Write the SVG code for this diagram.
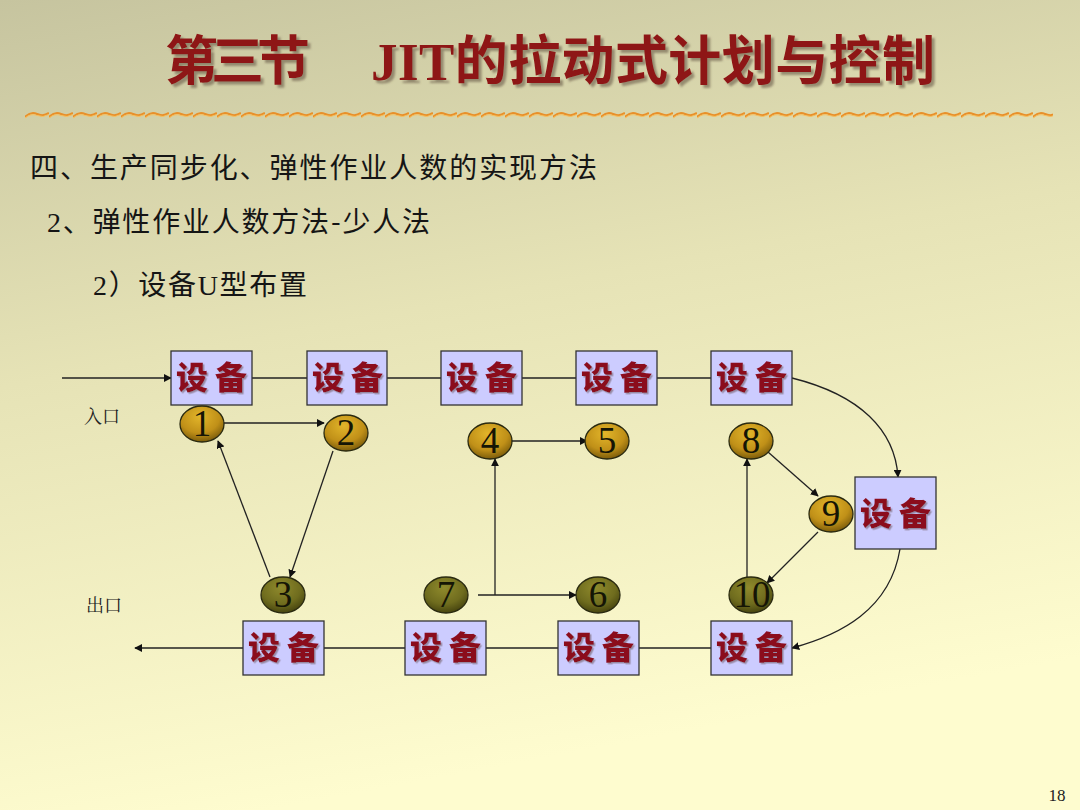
<svg xmlns="http://www.w3.org/2000/svg" width="1080" height="810" viewBox="0 0 1080 810">
<defs>
<linearGradient id="bg" x1="0" y1="0" x2="0.25" y2="1">
<stop offset="0" stop-color="#c6c49f"/>
<stop offset="0.45" stop-color="#e6e3b6"/>
<stop offset="1" stop-color="#fefccf"/>
</linearGradient>
<radialGradient id="gold" cx="0.45" cy="0.3" r="0.75">
<stop offset="0" stop-color="#e2b52a"/>
<stop offset="0.6" stop-color="#c09018"/>
<stop offset="1" stop-color="#6e5208"/>
</radialGradient>
<radialGradient id="olive" cx="0.45" cy="0.3" r="0.75">
<stop offset="0" stop-color="#8f8a2c"/>
<stop offset="0.6" stop-color="#6f6c1e"/>
<stop offset="1" stop-color="#3f3d0c"/>
</radialGradient>
<pattern id="wave" x="25" y="105" width="24" height="20" patternUnits="userSpaceOnUse">
<path d="M0 12 Q6 6 12 9 Q18 12 24 8" fill="none" stroke="#e8902a" stroke-width="2.2"/>
<path d="M0 13 Q6 8 12 10.5 Q18 13 24 9.5" fill="none" stroke="#f5c060" stroke-width="1"/>
</pattern>
<filter id="tsh" x="-5%" y="-20%" width="110%" height="140%">
<feDropShadow dx="3" dy="3" stdDeviation="1" flood-color="#6a5a4a" flood-opacity="0.6"/>
</filter>
<filter id="esh" x="-10%" y="-20%" width="120%" height="140%">
<feDropShadow dx="1.5" dy="1.5" stdDeviation="0.5" flood-color="#8a7a90" flood-opacity="0.8"/>
</filter>
<marker id="ah" viewBox="0 0 10 10" refX="9" refY="5" markerWidth="8" markerHeight="8" markerUnits="userSpaceOnUse" orient="auto">
<path d="M0 0 L10 5 L0 10 z" fill="#111"/>
</marker>
</defs>
<style>
.box{fill:#ccccff;stroke:#333;stroke-width:1.3}
.eq{font-family:"Noto Sans CJK SC",sans-serif;font-weight:900;font-size:32px;fill:#8b0a1e;filter:url(#esh)}
.c{stroke:#2a2a10;stroke-width:1.3}
.num{font-family:"Liberation Serif",serif;font-size:37px;fill:#151505;text-anchor:middle}
.ln{fill:none;stroke:#222;stroke-width:1.3}
.body{font-family:"Noto Sans CJK SC",sans-serif;fill:#151515}
.ttl{font-family:"Liberation Serif","Noto Sans CJK SC",serif;font-weight:bold;font-size:53px;fill:#8e1212;filter:url(#tsh)}
.lab{font-family:"Noto Serif CJK SC","Noto Sans CJK SC",serif;font-size:18px;fill:#222}
</style>
<rect width="1080" height="810" fill="url(#bg)"/>
<g id="title">
<text class="ttl" x="165" y="80" textLength="145" lengthAdjust="spacing">第三节</text>
<text class="ttl" x="371" y="80" textLength="564" lengthAdjust="spacing">JIT的拉动式计划与控制</text>
</g>
<rect x="25" y="105" width="1028" height="20" fill="url(#wave)"/>
<g id="headings">
<text class="body" x="30" y="178" font-size="28" textLength="567" lengthAdjust="spacing">四、生产同步化、弹性作业人数的实现方法</text>
<text class="body" x="47" y="232" font-size="28" textLength="383" lengthAdjust="spacing"><tspan font-family="Liberation Serif,serif">2</tspan>、弹性作业人数方法-少人法</text>
<text class="body" x="93" y="295" font-size="28" textLength="214" lengthAdjust="spacing"><tspan font-family="Liberation Serif,serif">2</tspan>）设备<tspan font-family="Liberation Serif,serif">U</tspan>型布置</text>
</g>
<g id="connectors">
<line class="ln" x1="62" y1="378" x2="171" y2="378" marker-end="url(#ah)"/>
<line class="ln" x1="252" y1="378" x2="307" y2="378"/>
<line class="ln" x1="387" y1="378" x2="441" y2="378"/>
<line class="ln" x1="522" y1="378" x2="576" y2="378"/>
<line class="ln" x1="657" y1="378" x2="711" y2="378"/>
<path class="ln" d="M792 378 C860 395 895 430 898 477" marker-end="url(#ah)"/>
<path class="ln" d="M900 549 C890 610 840 635 792 648" marker-end="url(#ah)"/>
<line class="ln" x1="711" y1="648" x2="639" y2="648"/>
<line class="ln" x1="558" y1="648" x2="486" y2="648"/>
<line class="ln" x1="405" y1="648" x2="324" y2="648"/>
<line class="ln" x1="243" y1="648" x2="135" y2="648" marker-end="url(#ah)"/>
<line class="ln" x1="224" y1="423" x2="324" y2="423" marker-end="url(#ah)"/>
<line class="ln" x1="333" y1="451" x2="290" y2="577" marker-end="url(#ah)"/>
<line class="ln" x1="270" y1="577" x2="218" y2="441" marker-end="url(#ah)"/>
<line class="ln" x1="478" y1="595" x2="576" y2="595" marker-end="url(#ah)"/>
<line class="ln" x1="495" y1="595" x2="495" y2="459" marker-end="url(#ah)"/>
<line class="ln" x1="490" y1="441" x2="587" y2="441" marker-end="url(#ah)"/>
<line class="ln" x1="768" y1="452" x2="818" y2="496" marker-end="url(#ah)"/>
<line class="ln" x1="818" y1="532" x2="767" y2="583" marker-end="url(#ah)"/>
<line class="ln" x1="747" y1="577" x2="747" y2="459" marker-end="url(#ah)"/>
</g>
<g id="eq1"><rect class="box" x="171" y="351" width="81" height="54"/><text class="eq" x="176" y="389" textLength="71" lengthAdjust="spacing">设备</text></g>
<g id="eq2"><rect class="box" x="307" y="351" width="80" height="54"/><text class="eq" x="312" y="389" textLength="71" lengthAdjust="spacing">设备</text></g>
<g id="eq3"><rect class="box" x="441" y="351" width="81" height="54"/><text class="eq" x="446" y="389" textLength="71" lengthAdjust="spacing">设备</text></g>
<g id="eq4"><rect class="box" x="576" y="351" width="81" height="54"/><text class="eq" x="581" y="389" textLength="71" lengthAdjust="spacing">设备</text></g>
<g id="eq5"><rect class="box" x="711" y="351" width="81" height="54"/><text class="eq" x="716" y="389" textLength="71" lengthAdjust="spacing">设备</text></g>
<g id="eq6"><rect class="box" x="855" y="477" width="81" height="72"/><text class="eq" x="860" y="525" textLength="71" lengthAdjust="spacing">设备</text></g>
<g id="eq7"><rect class="box" x="711" y="621" width="81" height="54"/><text class="eq" x="716" y="659" textLength="71" lengthAdjust="spacing">设备</text></g>
<g id="eq8"><rect class="box" x="558" y="621" width="81" height="54"/><text class="eq" x="563" y="659" textLength="71" lengthAdjust="spacing">设备</text></g>
<g id="eq9"><rect class="box" x="405" y="621" width="81" height="54"/><text class="eq" x="410" y="659" textLength="71" lengthAdjust="spacing">设备</text></g>
<g id="eq10"><rect class="box" x="243" y="621" width="81" height="54"/><text class="eq" x="248" y="659" textLength="71" lengthAdjust="spacing">设备</text></g>
<g id="n1"><ellipse class="c" cx="202" cy="424" rx="22" ry="18" fill="url(#gold)"/><text class="num" x="202" y="436">1</text></g>
<g id="n2"><ellipse class="c" cx="346" cy="433" rx="22" ry="18" fill="url(#gold)"/><text class="num" x="346" y="445">2</text></g>
<g id="n3"><ellipse class="c" cx="283" cy="595" rx="22" ry="18" fill="url(#olive)"/><text class="num" x="283" y="607">3</text></g>
<g id="n4"><ellipse class="c" cx="490" cy="441" rx="22" ry="18" fill="url(#gold)"/><text class="num" x="490" y="453">4</text></g>
<g id="n5"><ellipse class="c" cx="607" cy="441" rx="22" ry="18" fill="url(#gold)"/><text class="num" x="607" y="453">5</text></g>
<g id="n6"><ellipse class="c" cx="598" cy="595" rx="22" ry="18" fill="url(#olive)"/><text class="num" x="598" y="607">6</text></g>
<g id="n7"><ellipse class="c" cx="446" cy="595" rx="22" ry="18" fill="url(#olive)"/><text class="num" x="446" y="607">7</text></g>
<g id="n8"><ellipse class="c" cx="751" cy="441" rx="22" ry="18" fill="url(#gold)"/><text class="num" x="751" y="453">8</text></g>
<g id="n9"><ellipse class="c" cx="831" cy="514" rx="22" ry="18" fill="url(#gold)"/><text class="num" x="831" y="526">9</text></g>
<g id="n10"><ellipse class="c" cx="751" cy="595" rx="22" ry="18" fill="url(#olive)"/><text class="num" x="752" y="607" textLength="37" lengthAdjust="spacingAndGlyphs">10</text></g>
<g id="labels">
<text class="lab" x="84" y="423">入口</text>
<text class="lab" x="86" y="612">出口</text>
<text x="1057" y="801" font-family="Liberation Serif,serif" font-size="17" fill="#222" text-anchor="middle">18</text>
</g>
</svg>
